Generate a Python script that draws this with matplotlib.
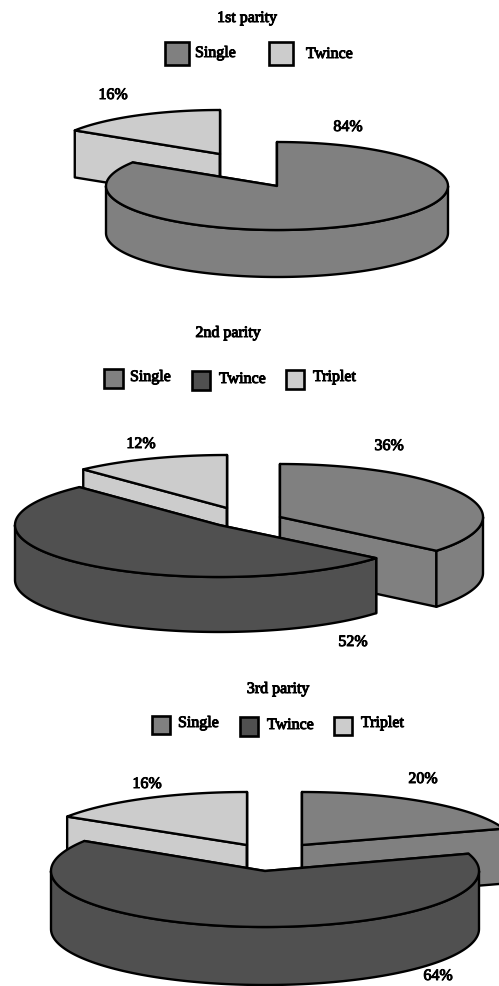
import numpy as np
import matplotlib
matplotlib.use("Agg")
import matplotlib.pyplot as plt
from matplotlib.patches import Polygon, Rectangle
import matplotlib.patheffects as pe

titles = ["1st parity", "2nd parity", "3rd parity"]
labels_1 = ["Single", "Twince"]
labels_2 = ["Single", "Twince", "Triplet"]
labels_3 = ["Single", "Twince", "Triplet"]
values_1 = [84, 16]
values_2 = [36, 52, 12]
values_3 = [20, 64, 16]

colors_1 = ["#808080", "#cccccc"]
colors_23 = ["#808080", "#505050", "#cccccc"]

LW = 1.7
plt.rcParams["font.family"] = ["Liberation Serif", "DejaVu Serif"]
fig = plt.figure(figsize=(4.99, 9.86), dpi=100)
ax = fig.add_axes([0, 0, 1, 1])
ax.set_xlim(0, 499)
ax.set_ylim(986, 0)
ax.axis("off")


def txt(x, y, s, ha="center"):
    ax.text(x, y, s, ha=ha, va="center", fontsize=11.5, color="black",
            path_effects=[pe.withStroke(linewidth=0.7, foreground="black")])


def poly(pts, color):
    ax.add_patch(Polygon(pts, closed=True, facecolor=color, edgecolor="black",
                         linewidth=LW, joinstyle="round"))


def wedge(start, end, cx, cy, rx, ry, depth, color):
    """Draw one extruded slice; start and end are fractions of the full turn."""
    a0, a1 = 2 * np.pi * start, 2 * np.pi * end
    th = np.linspace(a0, a1, 200)
    ox = cx + rx * np.sin(th)
    oy = cy - ry * np.cos(th)
    # cut faces
    for a in (a0, a1):
        px, py = cx + rx * np.sin(a), cy - ry * np.cos(a)
        poly([(cx, cy), (px, py), (px, py + depth), (cx, cy + depth)], color)
    # outer wall (only the part that faces the viewer)
    lo, hi = max(a0, np.pi / 2), min(a1, 3 * np.pi / 2)
    if hi > lo:
        t = np.linspace(lo, hi, 150)
        sx = cx + rx * np.sin(t)
        sy = cy - ry * np.cos(t)
        poly(np.r_[np.c_[sx, sy], np.c_[sx, sy + depth][::-1]], color)
    # top face
    poly(np.r_[[(cx, cy)], np.c_[ox, oy]], color)


def pie3d(values, colors, geoms, order):
    total = sum(values)
    fr = np.r_[0, np.cumsum(values)] / total
    for i in order:
        wedge(fr[i], fr[i + 1], *geoms[i], colors[i])


def legend(labels, colors, boxes, text_pos):
    for lab, col, (x0, y0, x1, y1), (tx, ty) in zip(labels, colors, boxes, text_pos):
        ax.add_patch(Rectangle((x0, y0), x1 - x0, y1 - y0, facecolor=col,
                               edgecolor="black", linewidth=LW + 0.2))
        txt(tx, ty, lab, ha="left")


# ---- 1st parity
txt(247, 18, titles[0])
legend(labels_1, colors_1,
       [(165, 42, 189, 65), (269, 42, 293, 65)],
       [(195, 53), (306, 54)])
pie3d(values_1, colors_1,
      [(277, 186, 171, 44, 47), (220, 154, 172, 44, 47)], order=[1, 0])
for v, p in zip(values_1, [(348, 127), (113, 95)]):
    txt(*p, f"{v}%")

# ---- 2nd parity
txt(228, 333, titles[1])
legend(labels_2, colors_23,
       [(104, 369, 123, 388), (192, 371, 210, 390), (286, 370, 304, 389)],
       [(130, 377), (219, 379), (313, 377)])
pie3d(values_2, colors_23,
      [(280, 517, 203, 53, 56), (219, 525, 204, 52, 55), (227, 508, 210, 53, 55)],
      order=[2, 0, 1])
for v, p in zip(values_2, [(389, 446), (353, 642), (141, 444)]):
    txt(*p, f"{v}%")

# ---- 3rd parity
txt(278, 689, titles[2])
legend(labels_3, colors_23,
       [(152, 716, 170, 734), (240, 717, 258, 736), (334, 717, 352, 735)],
       [(178, 723), (267, 725), (361, 723)])
pie3d(values_3, colors_23,
      [(302, 845, 212, 53, 55), (265, 871, 214, 56, 58), (247, 845, 213, 53, 55)],
      order=[2, 0, 1])
for v, p in zip(values_3, [(423, 779), (438, 976), (147, 784)]):
    txt(*p, f"{v}%")

fig.savefig("out.png", dpi=100)
